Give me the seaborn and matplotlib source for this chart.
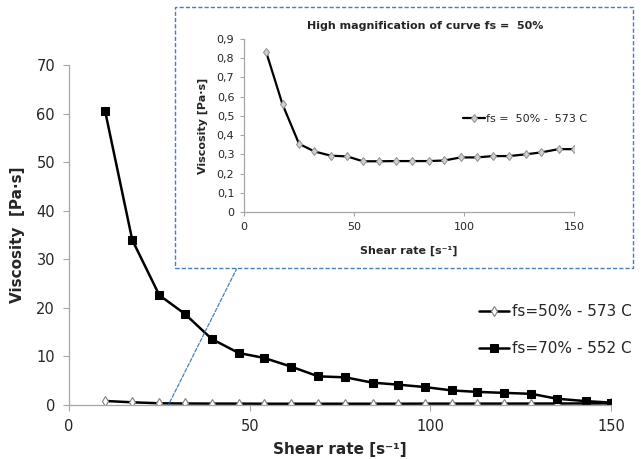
import matplotlib
matplotlib.use('Agg')
import matplotlib.pyplot as plt
from matplotlib.patches import Rectangle, ConnectionPatch
import seaborn as sns

# shear rate points, same for both curves
shear_rate = [10, 17.5, 25, 32, 39.5, 47, 54, 61.5, 69, 76.5,
              84, 91, 98.5, 106, 113, 120.5, 128, 135, 143, 150]
visc_fs50 = [0.835, 0.56, 0.355, 0.315, 0.293, 0.289, 0.264, 0.264, 0.265, 0.265,
             0.265, 0.268, 0.284, 0.284, 0.291, 0.291, 0.300, 0.310, 0.327, 0.327]
visc_fs70 = [60.5, 34.0, 22.6, 18.8, 13.6, 10.7, 9.7, 7.9, 5.9, 5.7,
             4.6, 4.2, 3.7, 3.0, 2.7, 2.5, 2.3, 1.3, 0.8, 0.5]

label50 = 'fs=50% - 573 C'
label70 = 'fs=70% - 552 C'
label50_inset = 'fs =  50% -  573 C'

main_yticks = [0, 10, 20, 30, 40, 50, 60, 70]
inset_yticks = [0, 0.1, 0.2, 0.3, 0.4, 0.5, 0.6, 0.7, 0.8, 0.9]
inset_ylabels = ['0', '0,1', '0,2', '0,3', '0,4', '0,5', '0,6', '0,7', '0,8', '0,9']
xticks = [0, 50, 100, 150]

sns.set_style('white')
plt.rcParams['font.family'] = ['DejaVu Sans']

GRAY = '#a6a6a6'
BLUE = '#4a7ebb'

fig = plt.figure(figsize=(6.43, 4.59), dpi=100)
ax = fig.add_axes([0.1073, 0.1176, 0.8429, 0.7408])

diamond = dict(marker='d', markersize=5, markerfacecolor='white',
               markeredgecolor='#808080', markeredgewidth=0.8)
square = dict(marker='s', markersize=5.2, markerfacecolor='black',
              markeredgecolor='black')

sns.lineplot(x=shear_rate, y=visc_fs50, ax=ax, color='black', linewidth=1.8,
             label=label50, **diamond)
sns.lineplot(x=shear_rate, y=visc_fs70, ax=ax, color='black', linewidth=1.8,
             label=label70, **square)

ax.set_xlim(0, 150)
ax.set_ylim(0, 70)
ax.set_xticks(xticks)
ax.set_yticks(main_yticks)
ax.tick_params(axis='both', labelsize=10.5, color=GRAY, length=4, width=0.8,
               direction='out', left=True, bottom=True, pad=6)
for side in ['top', 'right']:
    ax.spines[side].set_visible(False)
for side in ['left', 'bottom']:
    ax.spines[side].set_color(GRAY)
    ax.spines[side].set_linewidth(0.9)
ax.set_xlabel('Shear rate [s⁻¹]', fontsize=11, fontweight='bold', labelpad=6)
ax.set_ylabel('Viscosity  [Pa·s]', fontsize=11, fontweight='bold', labelpad=8)
ax.legend(loc='center left', bbox_to_anchor=(0.745, 0.22), frameon=False,
          fontsize=11, labelspacing=1.45, handlelength=2.0, handletextpad=0.15,
          borderaxespad=0)

# dashed frame around the magnified view
box = Rectangle((0.272, 0.416), 0.7125, 0.569, transform=fig.transFigure,
                fill=True, facecolor='white', edgecolor=BLUE, linewidth=1.0,
                linestyle=(0, (3, 1.5)), zorder=5)
fig.patches.append(box)

con = ConnectionPatch(xyA=(0.3686, 0.416), coordsA='figure fraction',
                      xyB=(27.5, 0), coordsB='data', axesB=ax,
                      color=BLUE, linewidth=0.9, linestyle=(0, (3, 1.5)))
fig.add_artist(con)

# inset: high magnification of fs=50%
ins = fig.add_axes([0.3795, 0.5381, 0.5132, 0.3769], zorder=6)
ins.patch.set_alpha(0)
sns.lineplot(x=shear_rate, y=visc_fs50, ax=ins, color='black', linewidth=1.6,
             label=label50_inset, marker='d', markersize=4.5, markerfacecolor='#d0d0d0',
             markeredgecolor='#909090', markeredgewidth=0.7)
ins.set_xlim(0, 150)
ins.set_ylim(0, 0.9)
ins.set_xticks(xticks)
ins.set_yticks(inset_yticks)
ins.set_yticklabels(inset_ylabels)
ins.tick_params(axis='both', labelsize=8, color=GRAY, length=3, width=0.8,
                direction='out', left=True, bottom=True, pad=4)
for side in ['top', 'right']:
    ins.spines[side].set_visible(False)
for side in ['left', 'bottom']:
    ins.spines[side].set_color(GRAY)
    ins.spines[side].set_linewidth(0.9)
ins.set_xlabel('Shear rate [s⁻¹]', fontsize=8, fontweight='bold', labelpad=10)
ins.set_ylabel('Viscosity [Pa·s]', fontsize=8, fontweight='bold', labelpad=6)
ins.set_title('High magnification of curve fs =  50%', fontsize=8,
              fontweight='bold', pad=7, x=0.55)
ins.legend(loc='center left', bbox_to_anchor=(0.65, 0.54), frameon=False,
           fontsize=8, handlelength=2.0, handletextpad=0.1, borderaxespad=0)

fig.savefig('out.png', dpi=100)
plt.close(fig)
